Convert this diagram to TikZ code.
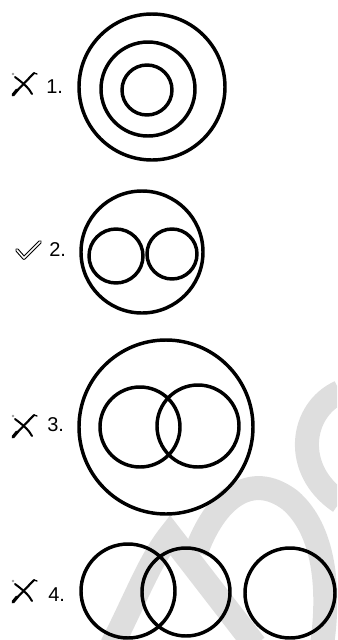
\documentclass[tikz,border=0pt]{standalone}
\usepackage{fontspec}
\setmainfont{Liberation Sans}
\begin{document}
\begin{tikzpicture}[x=0.75pt,y=-0.75pt,
  ring/.style={draw=black,line width=2.6pt},
  wm/.style={draw=black!13,line width=18pt},
  lbl/.style={font=\fontsize{15}{17}\selectfont,inner sep=0pt,anchor=west},
  crossmark/.pic={
    \draw[line width=1.6pt,line cap=round] (-10,11) -- (11,-11);
    \draw[line width=2.4pt,line cap=round] (-10,11) -- (-6,6);
    \draw[line width=1.5pt,line cap=round] (-8,-7) .. controls (0,-1) and (6,4) .. (9,10);
    \draw[line width=1pt,line cap=round] (11,-11) -- (14,-10);
    \fill[black!40] (-10,-10) circle (1.3);
  },
  checkmark/.pic={
    \draw[line width=2.8pt,line join=round,line cap=round] (-11,-1) -- (-4,7) -- (12,-9);
    \draw[white,line width=1.2pt,line join=round,line cap=round] (-11,-1) -- (-4,7) -- (12,-9);
  }]
\useasboundingbox (0,0) rectangle (337,640);
\clip (0,0) rectangle (337,640);
% watermark
\draw[wm] (340,392) .. controls (300,410) and (292,470) .. (340,502);
\draw[wm] (196,552) .. controls (215,500) and (250,470) .. (290,500)
          .. controls (325,530) and (330,590) .. (322,645);
\draw[wm] (112,645) .. controls (135,600) and (150,560) .. (170,535)
          -- (255,645);
% row 1
\draw[ring] (152,87) circle (73);
\draw[ring] (148,89) circle (47);
\draw[ring] (147,90) circle (25);
\pic (x1) at (23,84) {crossmark};
\node[lbl] (l1) at (46,87) {1.};
% row 2
\draw[ring] (142,252) circle (61);
\draw[ring] (116,256) circle (27);
\draw[ring] (172,254) circle (25);
\pic (c2) at (28,251) {checkmark};
\node[lbl] (l2) at (49,250) {2.};
% row 3
\draw[ring] (166,427) circle (87);
\draw[ring] (140,427) circle (40);
\draw[ring] (198,426) circle (41);
\pic (x3) at (23,426) {crossmark};
\node[lbl] (l3) at (47,425) {3.};
% row 4
\draw[ring] (128,591) circle (47);
\draw[ring] (186,592) circle (44);
\draw[ring] (290,593) circle (45);
\pic (x4) at (23,591) {crossmark};
\node[lbl] (l4) at (48,595) {4.};
\end{tikzpicture}
\end{document}
